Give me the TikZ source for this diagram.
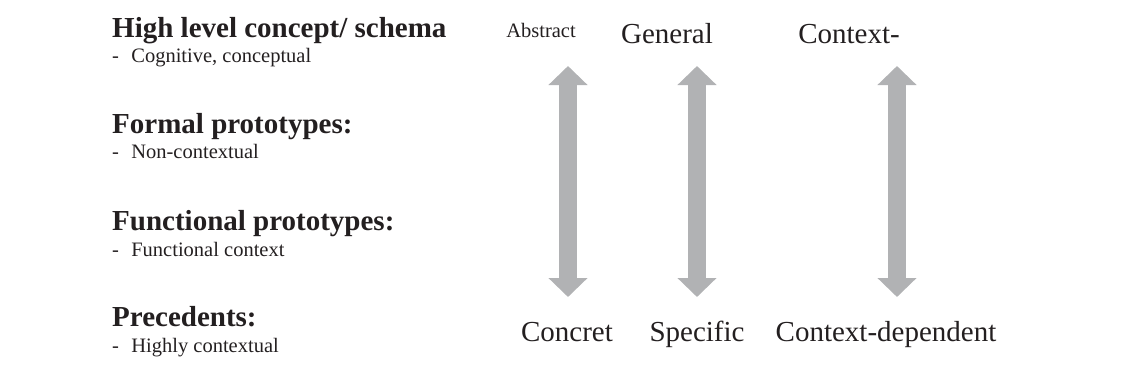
\documentclass[tikz,border=0pt]{standalone}
\usepackage{fontspec}
\setmainfont{Liberation Serif}
\usetikzlibrary{arrows.meta}
\definecolor{arrowgray}{HTML}{B1B2B4}
\definecolor{txt}{HTML}{231F20}
\tikzset{
  head/.style={anchor=base west, inner sep=0pt, text=txt, font=\fontsize{29}{33}\selectfont\bfseries},
  item/.style={anchor=base west, inner sep=0pt, text=txt, font=\fontsize{20.5}{24}\selectfont},
  biglabel/.style={anchor=base, inner sep=0pt, text=txt, font=\fontsize{29}{33}\selectfont},
  smalllabel/.style={anchor=base, inner sep=0pt, text=txt, font=\fontsize{20.5}{24}\selectfont},
  bigarrow/.style={draw=arrowgray, line width=18pt,
    {Triangle[width=38pt,length=19pt]}-{Triangle[width=38pt,length=19pt]}}
}
\begin{document}
\begin{tikzpicture}[x=1pt,y=-1pt]
\useasboundingbox (0,0) rectangle (1140,381);
% left column
\node[head] (h1) at (112,37) {High level concept/ schema};
\node[item] (i1) at (112,62) {-\hspace{0.6em}Cognitive, conceptual};
\node[head] (h2) at (112,133) {Formal prototypes:};
\node[item] (i2) at (112,158) {-\hspace{0.6em}Non-contextual};
\node[head] (h3) at (112,230) {Functional prototypes:};
\node[item] (i3) at (112,256) {-\hspace{0.6em}Functional context};
\node[head] (h4) at (112,326) {Precedents:};
\node[item] (i4) at (112,352) {-\hspace{0.6em}Highly contextual};
% top labels
\node[smalllabel] (t1) at (541,37) {Abstract};
\node[biglabel] (t2) at (667,43) {General};
\node[biglabel] (t3) at (849,43) {Context-};
% bottom labels
\node[biglabel] (b1) at (567,341) {Concret};
\node[biglabel] (b2) at (697,341) {Specific};
\node[biglabel] (b3) at (886,341) {Context-dependent};
% arrow ends
\coordinate (a1t) at (568,66);
\coordinate (a1b) at (568,297);
\coordinate (a2t) at (697,66);
\coordinate (a2b) at (697,297);
\coordinate (a3t) at (897,66);
\coordinate (a3b) at (897,297);
\draw[bigarrow] (a1t) -- (a1b);
\draw[bigarrow] (a2t) -- (a2b);
\draw[bigarrow] (a3t) -- (a3b);
\end{tikzpicture}
\end{document}
